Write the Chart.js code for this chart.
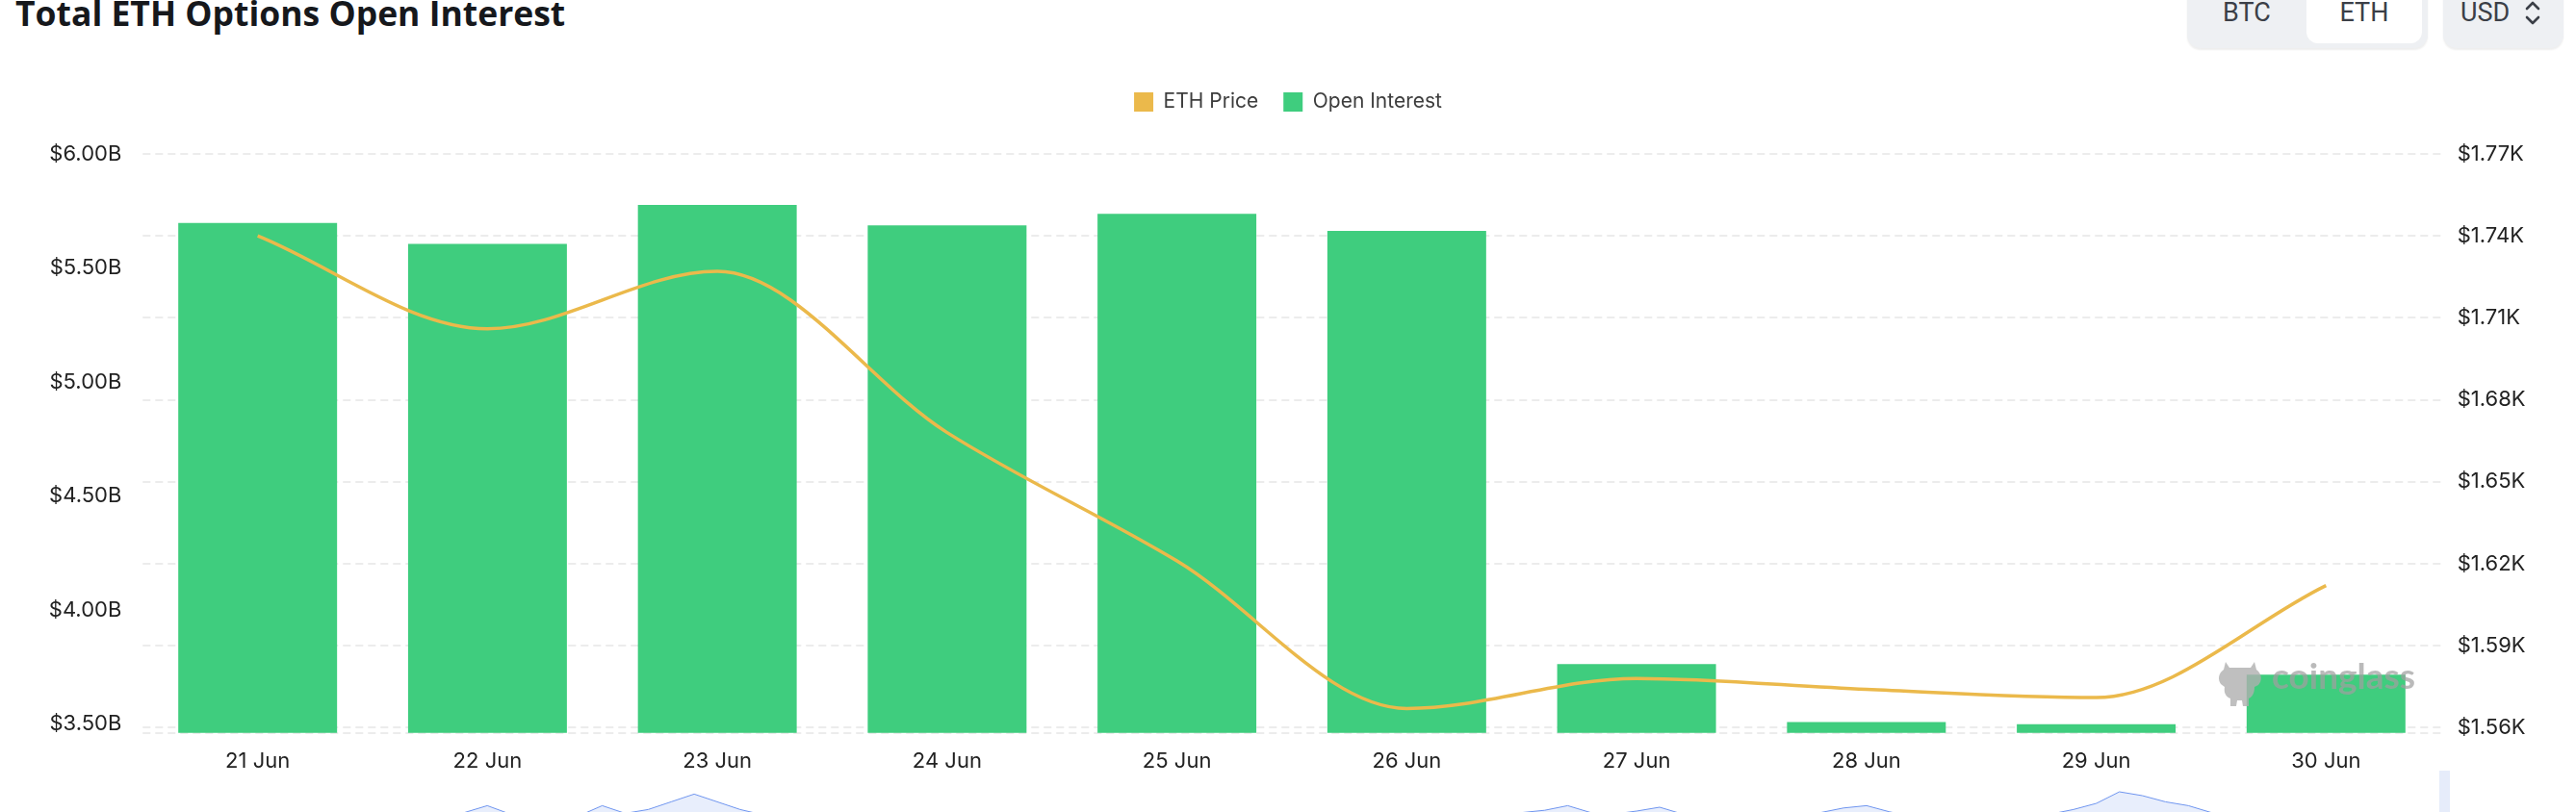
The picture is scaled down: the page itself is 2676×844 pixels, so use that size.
<!DOCTYPE html>
<html>
<head>
<meta charset="utf-8">
<script src="https://cdn.jsdelivr.net/npm/chart.js@4.4.0/dist/chart.umd.min.js"></script>
<style>
  html, body { margin: 0; padding: 0; background: #fff; }
  body { position: relative; width: 2676px; height: 844px; overflow: hidden; font-family: Inter, sans-serif; }
  #title { position: absolute; left: 16px; top: -4px; margin: 0; font: 700 35.5px/35.5px "Open Sans", sans-serif; color: #16181c; white-space: nowrap; }
  #seg { position: absolute; left: 2272px; top: -20px; width: 250px; height: 70px; background: #eef0f3; border-radius: 14px; box-shadow: 0 2px 2px rgba(0,0,0,0.07); }
  #seg span, #usd span { position: absolute; top: 20px; font: 400 27px/27px Roboto, sans-serif; color: #3b3f47; text-align: center; }
  #seg .on { position: absolute; left: 124px; top: 0; width: 120px; height: 65px; background: #fff; border-radius: 12px; }
  #usd { position: absolute; left: 2538px; top: -20px; width: 125px; height: 70px; background: #eef0f3; border-radius: 14px; box-shadow: 0 2px 2px rgba(0,0,0,0.07); }
  #main { position: absolute; left: 0; top: 0; }
  #mini { position: absolute; left: 148px; top: 795px; }
  #handle { position: absolute; left: 2534px; top: 801px; width: 11px; height: 60px; background: #e6ecfa; }
  #wm { position: absolute; left: 2302px; top: 682px; pointer-events: none; }
  #wm span { position: absolute; left: 58px; top: 0; font: 700 37px/40px Lato, sans-serif; color: rgba(160,160,160,0.72); }
</style>
</head>
<body>
<h1 id="title">Total ETH Options Open Interest</h1>
<div id="seg">
  <div class="on"></div>
  <span style="left:0;width:124px">BTC</span>
  <span style="left:124px;width:120px">ETH</span>
</div>
<div id="usd">
  <span style="left:18px">USD</span>
  <svg style="position:absolute;left:84px;top:20px" width="18" height="28" viewBox="0 0 18 28">
    <polyline points="3,9 9,3 15,9" fill="none" stroke="#3b3f47" stroke-width="2.6" stroke-linecap="round" stroke-linejoin="round"/>
    <polyline points="3,18 9,24 15,18" fill="none" stroke="#3b3f47" stroke-width="2.6" stroke-linecap="round" stroke-linejoin="round"/>
  </svg>
</div>
<canvas id="main" width="2676" height="820"></canvas>
<canvas id="mini" width="2388" height="80"></canvas>
<div id="handle"></div>
<div id="wm">
  <svg width="50" height="54" viewBox="0 0 50 54">
    <g fill="rgba(175,175,175,0.8)">
      <path d="M10 6 L14 12 L36 12 L40 6 L42 14 C48 18 48 26 44 30 L40 32 C40 38 38 42 34 44 L34 52 L28 52 L27 46 L22 46 L21 52 L15 52 L15 44 C10 42 8 38 9 32 L5 29 C2 25 2 18 8 14 Z"/>
    </g>
  </svg>
  <span>coinglass</span>
</div>
<script>
const days = ['21 Jun', '22 Jun', '23 Jun', '24 Jun', '25 Jun', '26 Jun', '27 Jun', '28 Jun', '29 Jun', '30 Jun'];
// open interest, billions USD
const openInterest = [5.697, 5.605, 5.776, 5.687, 5.737, 5.662, 3.762, 3.508, 3.499, 3.716];
// eth price, USD
const ethPrice = [1740, 1706, 1727, 1668, 1621, 1567, 1578, 1574, 1571, 1612];

const oiTicks = [3.5, 4.0, 4.5, 5.0, 5.5, 6.0];
const priceTicks = [1560, 1590, 1620, 1650, 1680, 1710, 1740, 1770];
const oiMin = 3.461, oiMax = 6.0;
const priceMin = 1558.1, priceMax = 1770;

// small overview strip under the chart (only the peaks show)
const miniValues = [
  28, 27, 29, 26, 28, 30, 27, 29, 28, 26,
  27, 29, 30, 33, 38, 47, 36, 30, 29, 34,
  47, 37, 42, 52, 62, 52, 42, 35, 30, 28,
  27, 29, 28, 26, 27, 29, 28, 30, 27, 26,
  28, 29, 27, 26, 28, 30, 29, 27, 28, 26,
  27, 29, 28, 30, 27, 28, 29, 27, 30, 34,
  38, 41, 47, 38, 36, 40, 45, 36, 31, 29,
  28, 30, 33, 38, 44, 47, 39, 33, 30, 28,
  27, 29, 31, 36, 42, 50, 65, 60, 52, 47,
  38, 32, 29, 28, 27, 29, 28, 27, 28, 27, 28
];

const tickFont = { family: 'Inter', size: 22 };
const tickColor = '#222';

const legendGap = {
  id: 'legendGap',
  beforeInit(chart) {
    const fit = chart.legend.fit;
    chart.legend.fit = function () {
      fit.bind(chart.legend)();
      this.height += 33.5;
    };
  }
};

new Chart(document.getElementById('main'), {
  data: {
    labels: days,
    datasets: [
      {
        type: 'line',
        label: 'ETH Price',
        data: ethPrice,
        yAxisID: 'y1',
        borderColor: '#ebb94b',
        backgroundColor: '#ebb94b',
        borderWidth: 3.5,
        pointRadius: 0,
        pointHoverRadius: 0,
        cubicInterpolationMode: 'monotone'
      },
      {
        type: 'bar',
        label: 'Open Interest',
        data: openInterest,
        yAxisID: 'y',
        backgroundColor: '#3fcd7e',
        barPercentage: 0.691,
        categoryPercentage: 1
      }
    ]
  },
  options: {
    responsive: false,
    animation: false,
    devicePixelRatio: 1,
    layout: { padding: { top: 69.5, left: 0, right: 0, bottom: 0 } },
    plugins: {
      legend: {
        position: 'top',
        labels: {
          boxWidth: 20,
          boxHeight: 20,
          padding: 26,
          color: '#3d3d3d',
          font: { family: 'Inter', size: 21 },
          generateLabels: chart => Chart.defaults.plugins.legend.labels.generateLabels(chart).map(l => ({ ...l, lineWidth: 0 }))
        }
      },
      tooltip: { enabled: false }
    },
    scales: {
      x: {
        grid: { display: false, drawTicks: false },
        border: { display: false },
        ticks: { color: tickColor, font: tickFont, padding: 16, maxRotation: 0 },
        afterFit: s => { s.height = 820 - 761.7; }
      },
      y: {
        position: 'left',
        min: oiMin,
        max: oiMax,
        afterBuildTicks: s => { s.ticks = oiTicks.map(v => ({ value: v })); },
        ticks: {
          autoSkip: false,
          color: tickColor,
          font: tickFont,
          padding: 22,
          callback: v => '$' + v.toFixed(2) + 'B'
        },
        grid: { display: false, drawTicks: false },
        border: { display: false },
        afterFit: s => { s.width = 148.3; }
      },
      y1: {
        position: 'right',
        min: priceMin,
        max: priceMax,
        afterBuildTicks: s => { s.ticks = [priceMin].concat(priceTicks).map(v => ({ value: v })); },
        ticks: {
          autoSkip: false,
          color: tickColor,
          font: tickFont,
          padding: 17,
          callback: v => v === priceMin ? '' : '$' + (v / 1000).toFixed(2) + 'K'
        },
        grid: { color: '#ececec', lineWidth: 2, drawTicks: false },
        border: { display: false, dash: [8, 5] },
        afterFit: s => { s.width = 2676 - 2535.7; }
      }
    }
  },
  plugins: [legendGap]
});

new Chart(document.getElementById('mini'), {
  type: 'line',
  data: {
    labels: miniValues.map((v, i) => i),
    datasets: [{
      data: miniValues,
      borderColor: '#6f95ef',
      borderWidth: 1,
      backgroundColor: 'rgba(111,149,239,0.16)',
      fill: 'start',
      pointRadius: 0,
      tension: 0
    }]
  },
  options: {
    responsive: false,
    animation: false,
    devicePixelRatio: 1,
    layout: { padding: 0 },
    plugins: { legend: { display: false }, tooltip: { enabled: false } },
    scales: {
      x: { display: false },
      y: { display: false, min: 0, max: 100 }
    }
  }
});
</script>
</body>
</html>
